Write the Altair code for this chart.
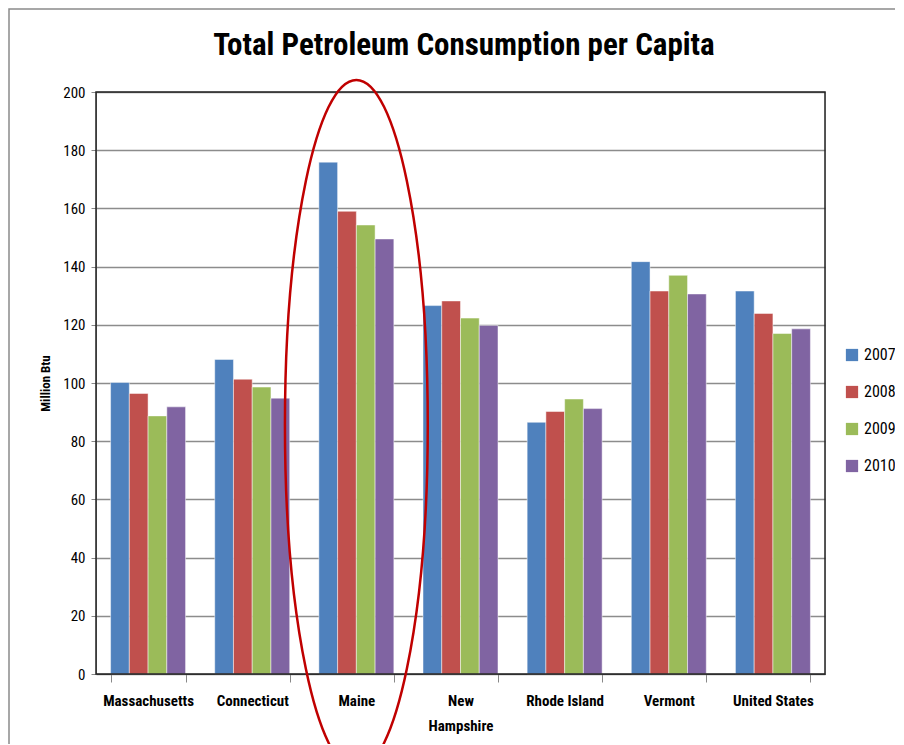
import altair as alt
import pandas as pd

title_text = "Total Petroleum Consumption per Capita"
states = ["Massachusetts", "Connecticut", "Maine", "New Hampshire",
          "Rhode Island", "Vermont", "United States"]
years = ["2007", "2008", "2009", "2010"]
v2007 = [100.2, 108.1, 175.9, 126.6, 86.5, 141.7, 131.6]
v2008 = [96.4, 101.3, 159.0, 128.2, 90.2, 131.6, 123.9]
v2009 = [88.7, 98.6, 154.3, 122.3, 94.5, 137.0, 117.0]
v2010 = [91.8, 94.8, 149.5, 119.8, 91.2, 130.6, 118.6]
colors = ["#4F81BD", "#C0504D", "#9BBB59", "#8064A2"]

series = {"2007": v2007, "2008": v2008, "2009": v2009, "2010": v2010}
rows = []
for y in years:
    for s, v in zip(states, series[y]):
        rows.append({"State": s, "Year": y, "Value": v})
df = pd.DataFrame(rows)

FONT = "Liberation Sans Narrow, Roboto Condensed, Liberation Sans, sans-serif"

x_scale = alt.Scale(domain=states, paddingInner=0.28, paddingOuter=0.14)

bars = alt.Chart(df).mark_bar(stroke="white", strokeWidth=0.8, strokeOpacity=0.6).encode(
    x=alt.X("State:N", scale=x_scale, sort=states,
            axis=alt.Axis(title=None, labelAngle=0, tickBand="extent", tickSize=8,
                          labelPadding=11, labelFontSize=15, labelFontWeight="bold",
                          labelFont=FONT, labelColor="black", domainColor="#555",
                          tickColor="#888", labelBaseline="top", labelLineHeight=25,
                          labelExpr="datum.label == 'New Hampshire' ? ['New', 'Hampshire'] : datum.label")),
    xOffset=alt.XOffset("Year:N", sort=years, scale=alt.Scale(paddingInner=0)),
    y=alt.Y("Value:Q", scale=alt.Scale(domain=[0, 200], nice=False),
            axis=alt.Axis(title="Million Btu", values=list(range(0, 201, 20)),
                          grid=True, gridColor="#8c8c8c", gridWidth=1.5,
                          tickSize=5, tickColor="#888", domainColor="#888",
                          labelFontSize=15, labelFont=FONT, labelColor="black",
                          labelPadding=6, titleFont=FONT, titleFontSize=13,
                          titleFontWeight="bold", titlePadding=10, titleColor="black")),
    color=alt.Color("Year:N", sort=years, scale=alt.Scale(domain=years, range=colors),
                    legend=alt.Legend(title=None, orient="none", legendX=748, legendY=255,
                                      symbolType="square", symbolSize=150,
                                      labelFontSize=16, labelFont=FONT, labelColor="black",
                                      rowPadding=21, symbolStrokeWidth=0)),
)

one = pd.DataFrame({"State": ["Maine"], "Value": [85.6], "Title": [title_text]})

ellipse = alt.Chart(one).mark_point(
    shape="M -0.207,0 A 0.207,1 0 1,1 0.207,0 A 0.207,1 0 1,1 -0.207,0 Z",
    size=476100, filled=False, stroke="#C00000", strokeWidth=2.5, opacity=1
).encode(
    x=alt.X("State:N", scale=x_scale, sort=states),
    y=alt.Y("Value:Q"),
)

frame = alt.Chart(one).mark_rect(fill="transparent", stroke="#8a8a8a", strokeWidth=1.5).encode(
    x=alt.value(-87), x2=alt.value(1000), y=alt.value(-83), y2=alt.value(1000)
)

plot_border = alt.Chart(one).mark_rect(fill="transparent", stroke="#222", strokeWidth=1.5).encode(
    x=alt.value(0), x2=alt.value(729), y=alt.value(0), y2=alt.value(582)
)

title = alt.Chart(one).mark_text(font=FONT, fontSize=31, fontWeight="bold", color="black",
                                 align="center", baseline="middle").encode(
    text="Title:N", x=alt.value(368), y=alt.value(-46)
)

chart = alt.layer(frame, bars, plot_border, ellipse, title).properties(
    width=729, height=582,
    autosize=alt.AutoSizeParams(type="none"),
    padding={"left": 88, "top": 84, "right": 70, "bottom": 70},
).configure_view(stroke=None).configure(background="white")

chart.save("out.html", embed_options={"renderer": "svg", "actions": False})
